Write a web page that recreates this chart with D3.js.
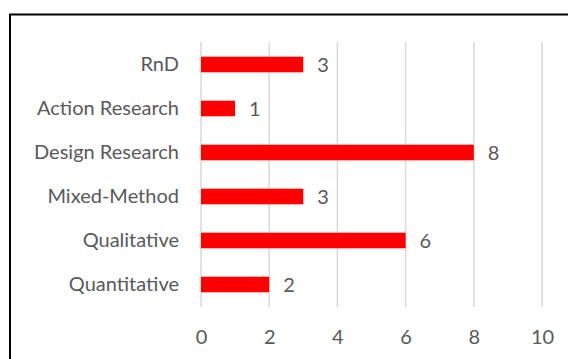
<!DOCTYPE html>
<html><head><meta charset="utf-8">
<script src="https://cdn.jsdelivr.net/npm/d3@7"></script>
<style>
html,body{margin:0;padding:0;background:#fff;}
svg{display:block;}
text{font-family:Lato,"Open Sans",sans-serif;}
</style></head>
<body><svg id="c" width="568" height="359"></svg>
<script>
const categories = ["RnD","Action Research","Design Research","Mixed-Method","Qualitative","Quantitative"];
const values = [3,1,8,3,6,2];
const ticks = [0,2,4,6,8,10];

const svg = d3.select("#c");
// outer frame (cropped at right and bottom)
svg.append("rect").attr("x",10).attr("y",14.5).attr("width",600).attr("height",400)
  .attr("fill","none").attr("stroke","#000").attr("stroke-width",2);

const x = d3.scaleLinear().domain([0,10]).range([201,542]);
const y = d3.scaleBand().domain(categories).range([42.5,306.5]).paddingInner(0.645).paddingOuter(0.3225);

const g = svg.append("g");
g.selectAll("line.grid").data(ticks).enter().append("line")
  .attr("x1",d=>x(d)).attr("x2",d=>x(d)).attr("y1",42).attr("y2",307)
  .attr("stroke","#d9d9d9").attr("stroke-width",1.5);

g.selectAll("rect.bar").data(values).enter().append("rect")
  .attr("x",x(0)).attr("y",(d,i)=>y(categories[i]))
  .attr("width",d=>x(d)-x(0)).attr("height",y.bandwidth()).attr("fill","#ff0000");

g.selectAll("text.val").data(values).enter().append("text")
  .attr("x",d=>x(d)+14).attr("y",(d,i)=>y(categories[i])+y.bandwidth()/2)
  .attr("dy","0.36em").attr("font-size",20).attr("fill","#595959").text(d=>d);

const yAxis = d3.axisLeft(y).tickSize(0).tickPadding(22);
const ya = svg.append("g").attr("transform",`translate(${x(0)},0)`).call(yAxis);
ya.select(".domain").remove();
ya.selectAll("text").attr("font-size",20).attr("fill","#595959").attr("font-family","Lato,'Open Sans',sans-serif");

const xAxis = d3.axisBottom(x).tickValues(ticks).tickSize(0).tickPadding(0);
const xa = svg.append("g").attr("transform",`translate(0,330)`).call(xAxis);
xa.select(".domain").remove();
xa.selectAll("text").attr("font-size",20).attr("fill","#595959").attr("font-family","Lato,'Open Sans',sans-serif");
</script></body></html>
